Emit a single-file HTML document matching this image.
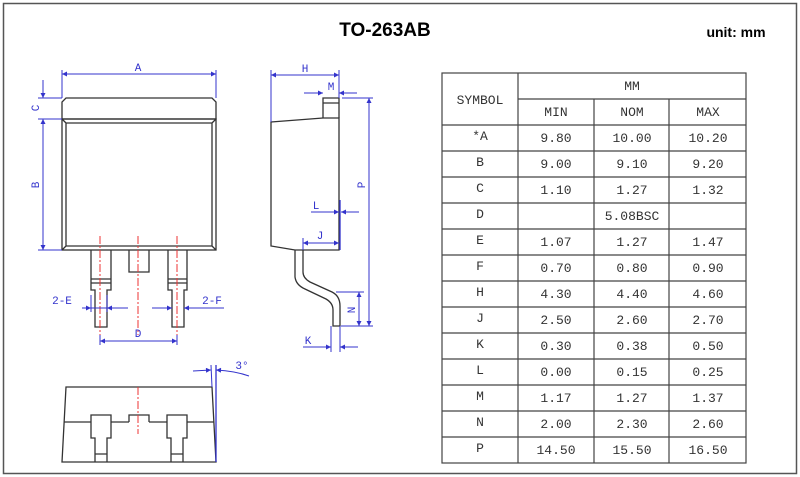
<!DOCTYPE html>
<html><head><meta charset="utf-8"><style>
html,body{margin:0;padding:0;background:#fff;}
svg{display:block;}
.t{font-family:"Liberation Mono","Noto Serif CJK SC",monospace;font-size:13px;fill:#333;}
.d{font-family:"Liberation Mono",monospace;font-size:11px;fill:#33c;}
</style></head><body>
<svg width="800" height="477" viewBox="0 0 800 477" xmlns="http://www.w3.org/2000/svg">
<defs>
<marker id="ar" viewBox="0 0 10 10" refX="10" refY="5" markerWidth="7" markerHeight="5" orient="auto-start-reverse" markerUnits="userSpaceOnUse"><path d="M0,0 L10,5 L0,10 z" fill="#33c"/></marker>
</defs>
<rect x="3.5" y="3.5" width="793" height="470" fill="#fff" stroke="#555" stroke-width="1.5"/>
<text x="385" y="36" text-anchor="middle" font-family="Liberation Sans,sans-serif" font-weight="bold" font-size="19">TO-263AB</text>
<text x="736" y="37" text-anchor="middle" font-family="Liberation Sans,sans-serif" font-weight="bold" font-size="14">unit: mm</text>

<!-- FRONT VIEW -->
<g fill="none" stroke="#333" stroke-width="1.3">
<path d="M62,119 L62,102 L66,98 L212,98 L216,102 L216,119 Z"/>
<rect x="62" y="119" width="154" height="131"/>
<path d="M66,123 L212,123 L212,246 L66,246 Z M62,119 L66,123 M216,119 L212,123 M62,250 L66,246 M216,250 L212,246"/>
<path d="M91,250 L91,290 L95,290 L95,327 L107,327 L107,290 L111,290 L111,250 M91,279 L111,279 M91,283 L111,283"/>
<path d="M168,250 L168,290 L172,290 L172,327 L184,327 L184,290 L187,290 L187,250 M168,279 L187,279 M168,283 L187,283"/>
<path d="M129,250 L129,272 L149,272 L149,250"/>
</g>
<g stroke="#e33" stroke-width="1" stroke-dasharray="8,2,2,2">
<line x1="100" y1="236" x2="100" y2="335"/><line x1="138" y1="236" x2="138" y2="335"/><line x1="177" y1="236" x2="177" y2="335"/>
</g>
<g stroke="#33c" stroke-width="1" fill="none">
<line x1="62" y1="70" x2="62" y2="98"/><line x1="216" y1="70" x2="216" y2="98"/>
<line x1="62" y1="74" x2="216" y2="74" marker-start="url(#ar)" marker-end="url(#ar)"/>
<line x1="38" y1="98" x2="62" y2="98"/><line x1="38" y1="119" x2="62" y2="119"/><line x1="38" y1="250" x2="62" y2="250"/>
<line x1="43" y1="80" x2="43" y2="98" marker-end="url(#ar)"/>
<line x1="43" y1="119" x2="43" y2="250" marker-start="url(#ar)" marker-end="url(#ar)"/>
<line x1="91" y1="295" x2="91" y2="312"/><line x1="107" y1="295" x2="107" y2="312"/>
<line x1="82" y1="308" x2="91" y2="308" marker-end="url(#ar)"/><line x1="128" y1="308" x2="107" y2="308" marker-end="url(#ar)"/><line x1="91" y1="308" x2="107" y2="308"/>
<line x1="152" y1="308" x2="172" y2="308" marker-end="url(#ar)"/><line x1="224" y1="308" x2="184" y2="308" marker-end="url(#ar)"/>
<line x1="100" y1="335" x2="100" y2="345"/><line x1="177" y1="335" x2="177" y2="345"/>
<line x1="100" y1="341" x2="177" y2="341" marker-start="url(#ar)" marker-end="url(#ar)"/>
</g>
<text class="d" x="138" y="71" text-anchor="middle">A</text>
<text class="d" transform="translate(39,108) rotate(-90)" text-anchor="middle">C</text>
<text class="d" transform="translate(39,185) rotate(-90)" text-anchor="middle">B</text>
<text class="d" x="62" y="304" text-anchor="middle">2-E</text>
<text class="d" x="212" y="304" text-anchor="middle">2-F</text>
<text class="d" x="138" y="337" text-anchor="middle">D</text>

<!-- SIDE VIEW -->
<g fill="none" stroke="#333" stroke-width="1.3">
<path d="M271,122 L323,118 L339,118 L339,250 L295,250 L271,246 Z"/>
<path d="M323,118 L323,98 L339,98 L339,118 M323,103 L339,103"/>
<path d="M295,250 L295,277 Q296,285 305,289 L326,299 Q333,303 333,310 L333,326 L340,326 L340,306 Q340,296 332,292 L310,282 Q303,278 303,272 L303,250"/>
</g>
<line x1="340" y1="200" x2="340" y2="250" stroke="#33c" stroke-width="1.3"/>
<g stroke="#33c" stroke-width="1" fill="none">
<line x1="271" y1="70" x2="271" y2="122"/><line x1="339" y1="70" x2="339" y2="98"/>
<line x1="271" y1="75" x2="339" y2="75" marker-start="url(#ar)" marker-end="url(#ar)"/>
<line x1="304" y1="93" x2="323" y2="93" marker-end="url(#ar)"/><line x1="357" y1="93" x2="339" y2="93" marker-end="url(#ar)"/>
<line x1="342" y1="98" x2="373" y2="98"/><line x1="341" y1="326" x2="373" y2="326"/>
<line x1="369" y1="98" x2="369" y2="326" marker-start="url(#ar)" marker-end="url(#ar)"/>
<line x1="311" y1="212" x2="339" y2="212" marker-end="url(#ar)"/><line x1="359" y1="212" x2="341" y2="212" marker-end="url(#ar)"/>
<line x1="303" y1="238" x2="303" y2="250"/>
<line x1="303" y1="243" x2="339" y2="243" marker-start="url(#ar)" marker-end="url(#ar)"/>
<line x1="336" y1="292" x2="364" y2="292"/>
<line x1="359" y1="292" x2="359" y2="326" marker-start="url(#ar)" marker-end="url(#ar)"/>
<line x1="331" y1="326" x2="331" y2="352"/><line x1="340" y1="326" x2="340" y2="352"/>
<line x1="303" y1="347" x2="331" y2="347" marker-end="url(#ar)"/><line x1="358" y1="347" x2="340" y2="347" marker-end="url(#ar)"/>
</g>
<text class="d" x="305" y="72" text-anchor="middle">H</text>
<text class="d" x="331" y="90" text-anchor="middle">M</text>
<text class="d" transform="translate(365,185) rotate(-90)" text-anchor="middle">P</text>
<text class="d" x="316" y="209" text-anchor="middle">L</text>
<text class="d" x="320" y="239" text-anchor="middle">J</text>
<text class="d" transform="translate(355,310) rotate(-90)" text-anchor="middle">N</text>
<text class="d" x="308" y="344" text-anchor="middle">K</text>

<!-- BOTTOM VIEW -->
<g fill="none" stroke="#333" stroke-width="1.3">
<path d="M66,387 L212,387 L216,462 L62,462 Z"/>
<path d="M64,422 L91,422 M111,422 L129,422 M149,422 L167,422 M187,422 L214,422"/>
<path d="M95,462 L95,438 L91,438 L91,415 L111,415 L111,438 L107,438 L107,462 M95,454 L107,454"/>
<path d="M171,462 L171,438 L167,438 L167,415 L187,415 L187,438 L183,438 L183,462 M171,454 L183,454"/>
<path d="M129,422 L129,415 L149,415 L149,422"/>
</g>
<line x1="138" y1="387" x2="138" y2="434" stroke="#e33" stroke-width="1" stroke-dasharray="8,2,2,2"/>
<g stroke="#33c" stroke-width="1" fill="none">
<line x1="216" y1="365" x2="216" y2="462" stroke-width="1.3"/>
<line x1="211" y1="365" x2="212" y2="387"/>
<path d="M193,371 L211,370" marker-end="url(#ar)"/>
<path d="M249,376 Q235,371 216,370" marker-end="url(#ar)"/>
</g>
<text class="d" x="242" y="369" text-anchor="middle" font-size="12">3°</text>

<!-- TABLE -->
<g stroke="#444" stroke-width="1.2" fill="none">
<rect x="442" y="73" width="304" height="390"/>
<line x1="518" y1="99" x2="746" y2="99"/>
<line x1="518" y1="73" x2="518" y2="463"/>
<line x1="594" y1="99" x2="594" y2="463"/>
<line x1="669" y1="99" x2="669" y2="463"/>
<path d="M442,125H746M442,151H746M442,177H746M442,203H746M442,229H746M442,255H746M442,281H746M442,307H746M442,333H746M442,359H746M442,385H746M442,411H746M442,437H746"/>
</g>
<g class="t" text-anchor="middle">
<text x="480" y="104">SYMBOL</text>
<text x="632" y="90">MM</text>
<text x="556" y="116">MIN</text><text x="632" y="116">NOM</text><text x="708" y="116">MAX</text>
<text x="480" y="140">*A</text><text x="556" y="142">9.80</text><text x="632" y="142">10.00</text><text x="708" y="142">10.20</text>
<text x="480" y="166">B</text><text x="556" y="168">9.00</text><text x="632" y="168">9.10</text><text x="708" y="168">9.20</text>
<text x="480" y="192">C</text><text x="556" y="194">1.10</text><text x="632" y="194">1.27</text><text x="708" y="194">1.32</text>
<text x="480" y="218">D</text><text x="632" y="220">5.08BSC</text>
<text x="480" y="244">E</text><text x="556" y="246">1.07</text><text x="632" y="246">1.27</text><text x="708" y="246">1.47</text>
<text x="480" y="270">F</text><text x="556" y="272">0.70</text><text x="632" y="272">0.80</text><text x="708" y="272">0.90</text>
<text x="480" y="296">H</text><text x="556" y="298">4.30</text><text x="632" y="298">4.40</text><text x="708" y="298">4.60</text>
<text x="480" y="322">J</text><text x="556" y="324">2.50</text><text x="632" y="324">2.60</text><text x="708" y="324">2.70</text>
<text x="480" y="348">K</text><text x="556" y="350">0.30</text><text x="632" y="350">0.38</text><text x="708" y="350">0.50</text>
<text x="480" y="374">L</text><text x="556" y="376">0.00</text><text x="632" y="376">0.15</text><text x="708" y="376">0.25</text>
<text x="480" y="400">M</text><text x="556" y="402">1.17</text><text x="632" y="402">1.27</text><text x="708" y="402">1.37</text>
<text x="480" y="426">N</text><text x="556" y="428">2.00</text><text x="632" y="428">2.30</text><text x="708" y="428">2.60</text>
<text x="480" y="452">P</text><text x="556" y="454">14.50</text><text x="632" y="454">15.50</text><text x="708" y="454">16.50</text>
</g>
</svg>
</body></html>
